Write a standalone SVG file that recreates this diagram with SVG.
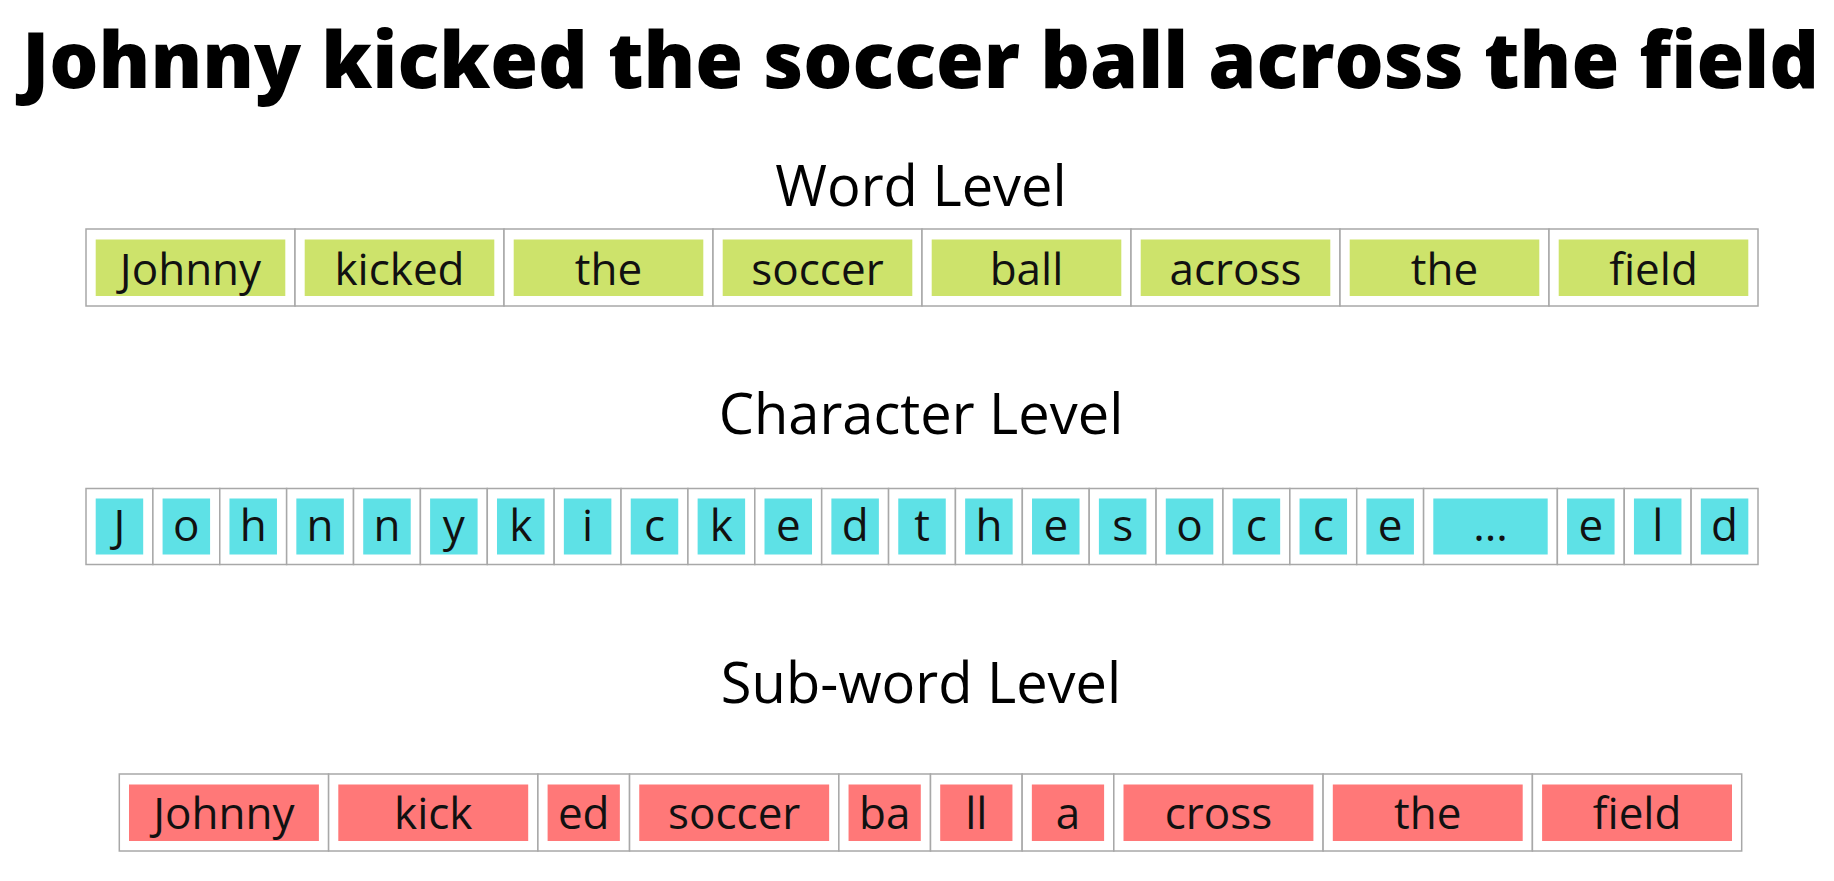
<svg xmlns="http://www.w3.org/2000/svg" width="1834" height="881" viewBox="0 0 1834 881">
<style>
.cell{fill:#ffffff;stroke:#a8a8a8;stroke-width:1.5}
.gw{fill:#cde36b}
.gc{fill:#5ee1e6}
.gs{fill:#ff7878}
.t{font-family:"Open Sans","Noto Sans","Liberation Sans",sans-serif;font-size:44px;fill:#111111;text-anchor:middle}
.h{font-family:"Open Sans","Noto Sans","Liberation Sans",sans-serif;font-size:56px;fill:#000000;text-anchor:middle}
.title{font-family:"Open Sans","Noto Sans","Liberation Sans",sans-serif;font-size:78px;font-weight:800;fill:#000000}
</style>
<rect width="1834" height="881" fill="#ffffff"/>
<g id="title"><text class="title" x="22" y="88" textLength="1797" lengthAdjust="spacingAndGlyphs">Johnny kicked the soccer ball across the field</text></g>
<g id="label-word"><text class="h" x="921" y="206">Word Level</text></g>
<g id="label-char"><text class="h" x="921" y="434">Character Level</text></g>
<g id="label-sub"><text class="h" x="921" y="703">Sub-word Level</text></g>

<g id="word-row">
<g id="w0"><rect class="cell" x="86" y="229" width="209" height="77"/><rect class="gw" x="95.7" y="239.5" width="189.6" height="56.5"/><text class="t" x="190.5" y="284.5">Johnny</text></g>
<g id="w1"><rect class="cell" x="295" y="229" width="209" height="77"/><rect class="gw" x="304.7" y="239.5" width="189.6" height="56.5"/><text class="t" x="399.5" y="284.5">kicked</text></g>
<g id="w2"><rect class="cell" x="504" y="229" width="209" height="77"/><rect class="gw" x="513.7" y="239.5" width="189.6" height="56.5"/><text class="t" x="608.5" y="284.5">the</text></g>
<g id="w3"><rect class="cell" x="713" y="229" width="209" height="77"/><rect class="gw" x="722.7" y="239.5" width="189.6" height="56.5"/><text class="t" x="817.5" y="284.5">soccer</text></g>
<g id="w4"><rect class="cell" x="922" y="229" width="209" height="77"/><rect class="gw" x="931.7" y="239.5" width="189.6" height="56.5"/><text class="t" x="1026.5" y="284.5">ball</text></g>
<g id="w5"><rect class="cell" x="1131" y="229" width="209" height="77"/><rect class="gw" x="1140.7" y="239.5" width="189.6" height="56.5"/><text class="t" x="1235.5" y="284.5">across</text></g>
<g id="w6"><rect class="cell" x="1340" y="229" width="209" height="77"/><rect class="gw" x="1349.7" y="239.5" width="189.6" height="56.5"/><text class="t" x="1444.5" y="284.5">the</text></g>
<g id="w7"><rect class="cell" x="1549" y="229" width="209" height="77"/><rect class="gw" x="1558.7" y="239.5" width="189.6" height="56.5"/><text class="t" x="1653.5" y="284.5">field</text></g>
</g>

<g id="char-row">
<g id="c0"><rect class="cell" x="86" y="488.5" width="66.88" height="76"/><rect class="gc" x="95.7" y="498.5" width="47.5" height="56"/><text class="t" x="119.44" y="540.5">J</text></g>
<g id="c1"><rect class="cell" x="152.88" y="488.5" width="66.88" height="76"/><rect class="gc" x="162.58" y="498.5" width="47.5" height="56"/><text class="t" x="186.32" y="540.5">o</text></g>
<g id="c2"><rect class="cell" x="219.76" y="488.5" width="66.88" height="76"/><rect class="gc" x="229.46" y="498.5" width="47.5" height="56"/><text class="t" x="253.2" y="540.5">h</text></g>
<g id="c3"><rect class="cell" x="286.64" y="488.5" width="66.88" height="76"/><rect class="gc" x="296.34" y="498.5" width="47.5" height="56"/><text class="t" x="320.08" y="540.5">n</text></g>
<g id="c4"><rect class="cell" x="353.52" y="488.5" width="66.88" height="76"/><rect class="gc" x="363.22" y="498.5" width="47.5" height="56"/><text class="t" x="386.96" y="540.5">n</text></g>
<g id="c5"><rect class="cell" x="420.4" y="488.5" width="66.88" height="76"/><rect class="gc" x="430.1" y="498.5" width="47.5" height="56"/><text class="t" x="453.84" y="540.5">y</text></g>
<g id="c6"><rect class="cell" x="487.28" y="488.5" width="66.88" height="76"/><rect class="gc" x="496.98" y="498.5" width="47.5" height="56"/><text class="t" x="520.72" y="540.5">k</text></g>
<g id="c7"><rect class="cell" x="554.16" y="488.5" width="66.88" height="76"/><rect class="gc" x="563.86" y="498.5" width="47.5" height="56"/><text class="t" x="587.6" y="540.5">i</text></g>
<g id="c8"><rect class="cell" x="621.04" y="488.5" width="66.88" height="76"/><rect class="gc" x="630.74" y="498.5" width="47.5" height="56"/><text class="t" x="654.48" y="540.5">c</text></g>
<g id="c9"><rect class="cell" x="687.92" y="488.5" width="66.88" height="76"/><rect class="gc" x="697.62" y="498.5" width="47.5" height="56"/><text class="t" x="721.36" y="540.5">k</text></g>
<g id="c10"><rect class="cell" x="754.8" y="488.5" width="66.88" height="76"/><rect class="gc" x="764.5" y="498.5" width="47.5" height="56"/><text class="t" x="788.24" y="540.5">e</text></g>
<g id="c11"><rect class="cell" x="821.68" y="488.5" width="66.88" height="76"/><rect class="gc" x="831.38" y="498.5" width="47.5" height="56"/><text class="t" x="855.12" y="540.5">d</text></g>
<g id="c12"><rect class="cell" x="888.56" y="488.5" width="66.88" height="76"/><rect class="gc" x="898.26" y="498.5" width="47.5" height="56"/><text class="t" x="922" y="540.5">t</text></g>
<g id="c13"><rect class="cell" x="955.44" y="488.5" width="66.88" height="76"/><rect class="gc" x="965.14" y="498.5" width="47.5" height="56"/><text class="t" x="988.88" y="540.5">h</text></g>
<g id="c14"><rect class="cell" x="1022.32" y="488.5" width="66.88" height="76"/><rect class="gc" x="1032.02" y="498.5" width="47.5" height="56"/><text class="t" x="1055.76" y="540.5">e</text></g>
<g id="c15"><rect class="cell" x="1089.2" y="488.5" width="66.88" height="76"/><rect class="gc" x="1098.9" y="498.5" width="47.5" height="56"/><text class="t" x="1122.64" y="540.5">s</text></g>
<g id="c16"><rect class="cell" x="1156.08" y="488.5" width="66.88" height="76"/><rect class="gc" x="1165.78" y="498.5" width="47.5" height="56"/><text class="t" x="1189.52" y="540.5">o</text></g>
<g id="c17"><rect class="cell" x="1222.96" y="488.5" width="66.88" height="76"/><rect class="gc" x="1232.66" y="498.5" width="47.5" height="56"/><text class="t" x="1256.4" y="540.5">c</text></g>
<g id="c18"><rect class="cell" x="1289.84" y="488.5" width="66.88" height="76"/><rect class="gc" x="1299.54" y="498.5" width="47.5" height="56"/><text class="t" x="1323.28" y="540.5">c</text></g>
<g id="c19"><rect class="cell" x="1356.72" y="488.5" width="66.88" height="76"/><rect class="gc" x="1366.42" y="498.5" width="47.5" height="56"/><text class="t" x="1390.16" y="540.5">e</text></g>
<g id="c20"><rect class="cell" x="1423.6" y="488.5" width="133.76" height="76"/><rect class="gc" x="1433.3" y="498.5" width="114.4" height="56"/><text class="t" x="1490.48" y="540.5">...</text></g>
<g id="c21"><rect class="cell" x="1557.36" y="488.5" width="66.88" height="76"/><rect class="gc" x="1567.06" y="498.5" width="47.5" height="56"/><text class="t" x="1590.8" y="540.5">e</text></g>
<g id="c22"><rect class="cell" x="1624.24" y="488.5" width="66.88" height="76"/><rect class="gc" x="1633.94" y="498.5" width="47.5" height="56"/><text class="t" x="1657.68" y="540.5">l</text></g>
<g id="c23"><rect class="cell" x="1691.12" y="488.5" width="66.88" height="76"/><rect class="gc" x="1700.82" y="498.5" width="47.5" height="56"/><text class="t" x="1724.56" y="540.5">d</text></g>
</g>

<g id="subword-row">
<g id="s0"><rect class="cell" x="119.3" y="774" width="209.3" height="77"/><rect class="gs" x="129" y="784.5" width="189.9" height="56.5"/><text class="t" x="223.95" y="828.5">Johnny</text></g>
<g id="s1"><rect class="cell" x="328.6" y="774" width="209.3" height="77"/><rect class="gs" x="338.3" y="784.5" width="189.9" height="56.5"/><text class="t" x="433.25" y="828.5">kick</text></g>
<g id="s2"><rect class="cell" x="537.9" y="774" width="91.65" height="77"/><rect class="gs" x="547.6" y="784.5" width="72.25" height="56.5"/><text class="t" x="583.73" y="828.5">ed</text></g>
<g id="s3"><rect class="cell" x="629.55" y="774" width="209.3" height="77"/><rect class="gs" x="639.25" y="784.5" width="189.9" height="56.5"/><text class="t" x="734.2" y="828.5">soccer</text></g>
<g id="s4"><rect class="cell" x="838.85" y="774" width="91.65" height="77"/><rect class="gs" x="848.55" y="784.5" width="72.25" height="56.5"/><text class="t" x="884.68" y="828.5">ba</text></g>
<g id="s5"><rect class="cell" x="930.5" y="774" width="91.65" height="77"/><rect class="gs" x="940.2" y="784.5" width="72.25" height="56.5"/><text class="t" x="976.33" y="828.5">ll</text></g>
<g id="s6"><rect class="cell" x="1022.15" y="774" width="91.65" height="77"/><rect class="gs" x="1031.85" y="784.5" width="72.25" height="56.5"/><text class="t" x="1067.98" y="828.5">a</text></g>
<g id="s7"><rect class="cell" x="1113.8" y="774" width="209.3" height="77"/><rect class="gs" x="1123.5" y="784.5" width="189.9" height="56.5"/><text class="t" x="1218.45" y="828.5">cross</text></g>
<g id="s8"><rect class="cell" x="1323.1" y="774" width="209.3" height="77"/><rect class="gs" x="1332.8" y="784.5" width="189.9" height="56.5"/><text class="t" x="1427.75" y="828.5">the</text></g>
<g id="s9"><rect class="cell" x="1532.4" y="774" width="209.3" height="77"/><rect class="gs" x="1542.1" y="784.5" width="189.9" height="56.5"/><text class="t" x="1637.05" y="828.5">field</text></g>
</g>

<g id="connectors"/>
</svg>
